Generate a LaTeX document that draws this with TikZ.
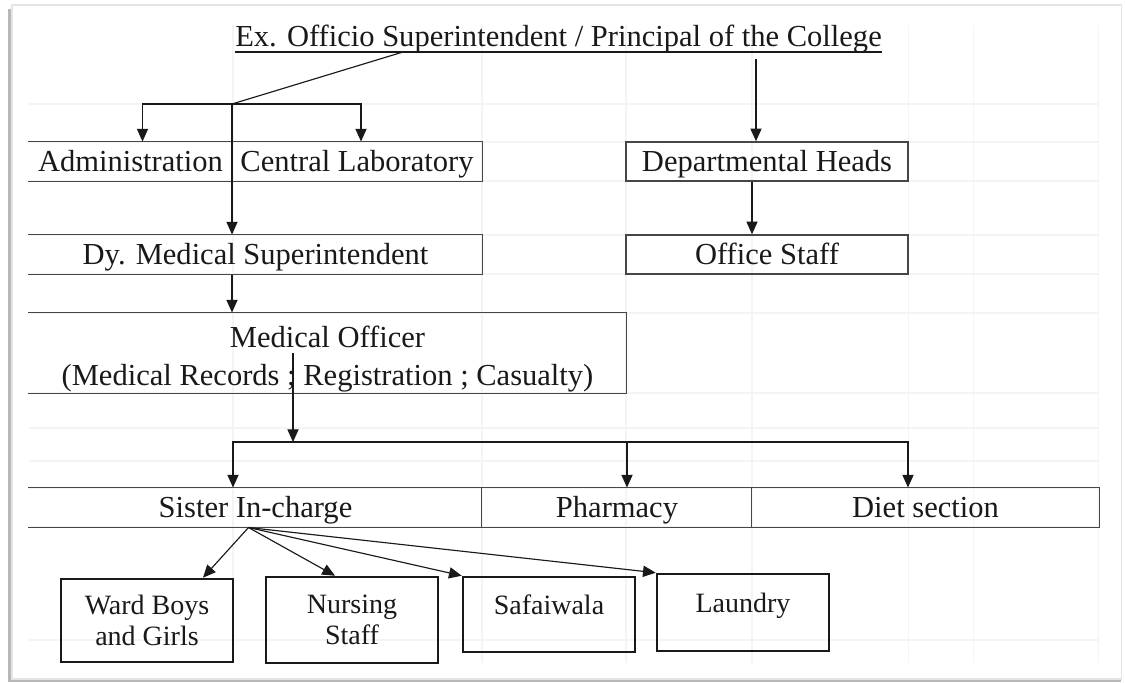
\documentclass[tikz,border=0pt]{standalone}
\usepackage{fontspec}
\setmainfont{Liberation Serif}
\usetikzlibrary{arrows.meta}
\definecolor{gridc}{RGB}{244,244,244}
\definecolor{boxc}{RGB}{70,70,70}
\definecolor{inkc}{RGB}{25,25,25}

\begin{document}
\begin{tikzpicture}[x=0.393pt, y=-0.393pt, >={Triangle[length=5pt,width=4.4pt]},
    font=\fontsize{12}{14}\selectfont]
  \def\px{0.393pt}
  \tikzset{
    cell/.style={inner sep=0pt, text=inkc, minimum height=39*\px, text height=10pt, text depth=2pt},
    unitbox/.style={draw=inkc, line width=1pt, inner sep=0pt, align=center, text=inkc,
      minimum width=172*\px, font=\fontsize{11}{12}\selectfont},
    link/.style={->, draw=inkc, line width=0.45pt},
    rule/.style={draw=boxc, line width=0.6pt}
  }
  \useasboundingbox (0,0) rectangle (1125,683);

  % sheet frame with shadow
  \fill[black!28] (8,9) rectangle (1121,682);
  \filldraw[fill=white, draw=black!10] (12,5) rectangle (1121,679);

  % faint spreadsheet grid
  \foreach \yy in {104,142,181,235,274,313,393,428,461,488,527,640}
    \draw[gridc, line width=0.4pt] (29,\yy) -- (1098,\yy);
  \foreach \xx in {233,482,626,752,908,973,1098}
    \draw[gridc, line width=0.4pt] (\xx,25) -- (\xx,663);

  % head of the college
  \node[anchor=base, inner sep=0pt, text=inkc] (head) at (558.5,47)
    {Ex. Officio Superintendent / Principal of the College};
  \draw[draw=inkc, line width=0.5pt] ([yshift=-5*\px]head.base west) -- ([yshift=-5*\px]head.base east);
  \coordinate (headL) at (403,52);
  \coordinate (headR) at (756,59);
  \coordinate (fork) at (232,104);

  % first level
  \node[cell, minimum width=203*\px] (admin) at (130.5,161.5) {Administration};
  \node[cell, minimum width=250*\px] (clab) at (357,161.5) {Central Laboratory};
  \node[cell, rule, minimum width=282*\px] (dept) at (767,161.5) {Departmental Heads};
  \draw[rule] (admin.north west) -- (clab.north east) -- (clab.south east) -- (admin.south west);

  % second level
  \node[cell, minimum width=453*\px] (dyms) at (255.5,254.5) {Dy. Medical Superintendent};
  \node[cell, rule, minimum width=282*\px] (office) at (767,254.5) {Office Staff};
  \draw[rule] (dyms.north west) -- (dyms.north east) -- (dyms.south east) -- (dyms.south west);

  % medical officer
  \node[inner sep=0pt, text=inkc, align=center, text height=28pt, minimum width=597*\px,
    minimum height=80*\px] (mo) at (327.5,353)
    {Medical Officer\\[1pt](Medical Records ; Registration ; Casualty)};
  \draw[rule] (mo.north west) -- (mo.north east) -- (mo.south east) -- (mo.south west);
  \coordinate (fork2) at (293,442);

  % service row
  \node[cell, minimum width=453*\px] (sister) at (255.5,507.5) {Sister In-charge};
  \node[cell, minimum width=270*\px] (pharm) at (617,507.5) {Pharmacy};
  \node[cell, minimum width=347*\px] (diet) at (925.5,507.5) {Diet section};
  \draw[rule] (sister.north west) -- (diet.north east) -- (diet.south east) -- (sister.south west);
  \draw[rule] (pharm.north west) -- (pharm.south west) (diet.north west) -- (diet.south west);

  % ward staff
  \node[unitbox, minimum height=83*\px] (ward) at (147,620.5) {Ward Boys\\[0pt]and Girls};
  \node[unitbox, minimum height=86*\px] (nurse) at (352,620) {Nursing\\[0pt]Staff};
  \node[unitbox, minimum height=75*\px, text depth=8pt] (safai) at (549,614.5) {Safaiwala};
  \node[unitbox, minimum height=77*\px, text depth=8pt] (laundry) at (743,612.5) {Laundry};

  % connectors
  \draw[draw=inkc, line width=0.45pt] (headL) -- (fork);
  \draw[link] (fork) -| ([xshift=12*\px]admin.north);
  \draw[link] (fork) -| ([xshift=4*\px]clab.north);
  \draw[link] (fork) -- (fork |- dyms.north);
  \draw[link] (headR) -- (headR |- dept.north);
  \draw[link] ([xshift=-15*\px]dept.south) -- ([xshift=-15*\px]office.north);
  \draw[link] (fork |- dyms.south) -- (fork |- mo.north);
  \draw[link] (fork2 |- mo.center) -- (fork2);
  \draw[link] (fork2) -| ([xshift=-22.5*\px]sister.north);
  \draw[link] (fork2) -| ([xshift=10*\px]pharm.north);
  \draw[link] (fork2) -| ([xshift=-17.5*\px]diet.north);
  \draw[link] ([xshift=-7*\px]sister.south) -- ([xshift=56*\px]ward.north);
  \draw[link] ([xshift=-7*\px]sister.south) -- ([xshift=-17*\px]nurse.north);
  \draw[link] ([xshift=-7*\px]sister.south) -- (safai.north west);
  \draw[link] ([xshift=-7*\px]sister.south) -- (laundry.north west);
\end{tikzpicture}
\end{document}
